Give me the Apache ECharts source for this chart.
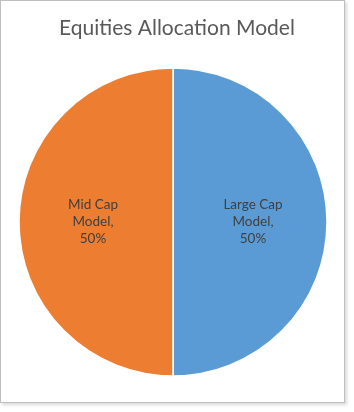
<!DOCTYPE html>
<html><head><meta charset="utf-8">
<script src="https://cdn.jsdelivr.net/npm/echarts@6/dist/echarts.min.js"></script>
<style>
html,body{margin:0;padding:0;background:#fff;}
#frame{position:absolute;left:0;top:0;width:343px;height:401px;border:1px solid #bfbfbf;box-shadow:2px 2px 3px rgba(0,0,0,0.15);background:#fff;}
#c{position:absolute;left:0;top:0;width:354px;height:412px;}
</style></head>
<body>
<div id="frame"></div>
<div id="c"></div>
<script>
const title = "Equities Allocation Model";
const categories = ["Large Cap Model", "Mid Cap Model"];
const labelNames = ["Large Cap\nModel,", "Mid Cap\nModel,"];
const values = [50, 50];
const colors = ["#5B9BD5", "#ED7D31"];

const chart = echarts.init(document.getElementById('c'), null, {renderer:'canvas'});
chart.setOption({
  animation:false,
  title:{text:title,left:172,top:13,textAlign:'center',textStyle:{fontFamily:'Lato, "Open Sans", sans-serif',fontSize:21,fontWeight:'normal',color:'#595959'}},
  series:[{
    type:'pie',
    center:[173,222],
    radius:[0,154],
    startAngle:90,
    clockwise:true,
    label:{position:'inside',formatter:(p)=>labelNames[p.dataIndex]+"\n"+p.value+"%",fontFamily:'Lato, "Open Sans", sans-serif',fontSize:13.5,color:'#404040',lineHeight:17,align:'center'},
    labelLine:{show:false},
    itemStyle:{borderColor:'#fff',borderWidth:1.5},
    emphasis:{disabled:true},
    data:categories.map((c,i)=>({name:c,value:values[i],itemStyle:{color:colors[i]}}))
  }]
});
</script>
</body></html>
